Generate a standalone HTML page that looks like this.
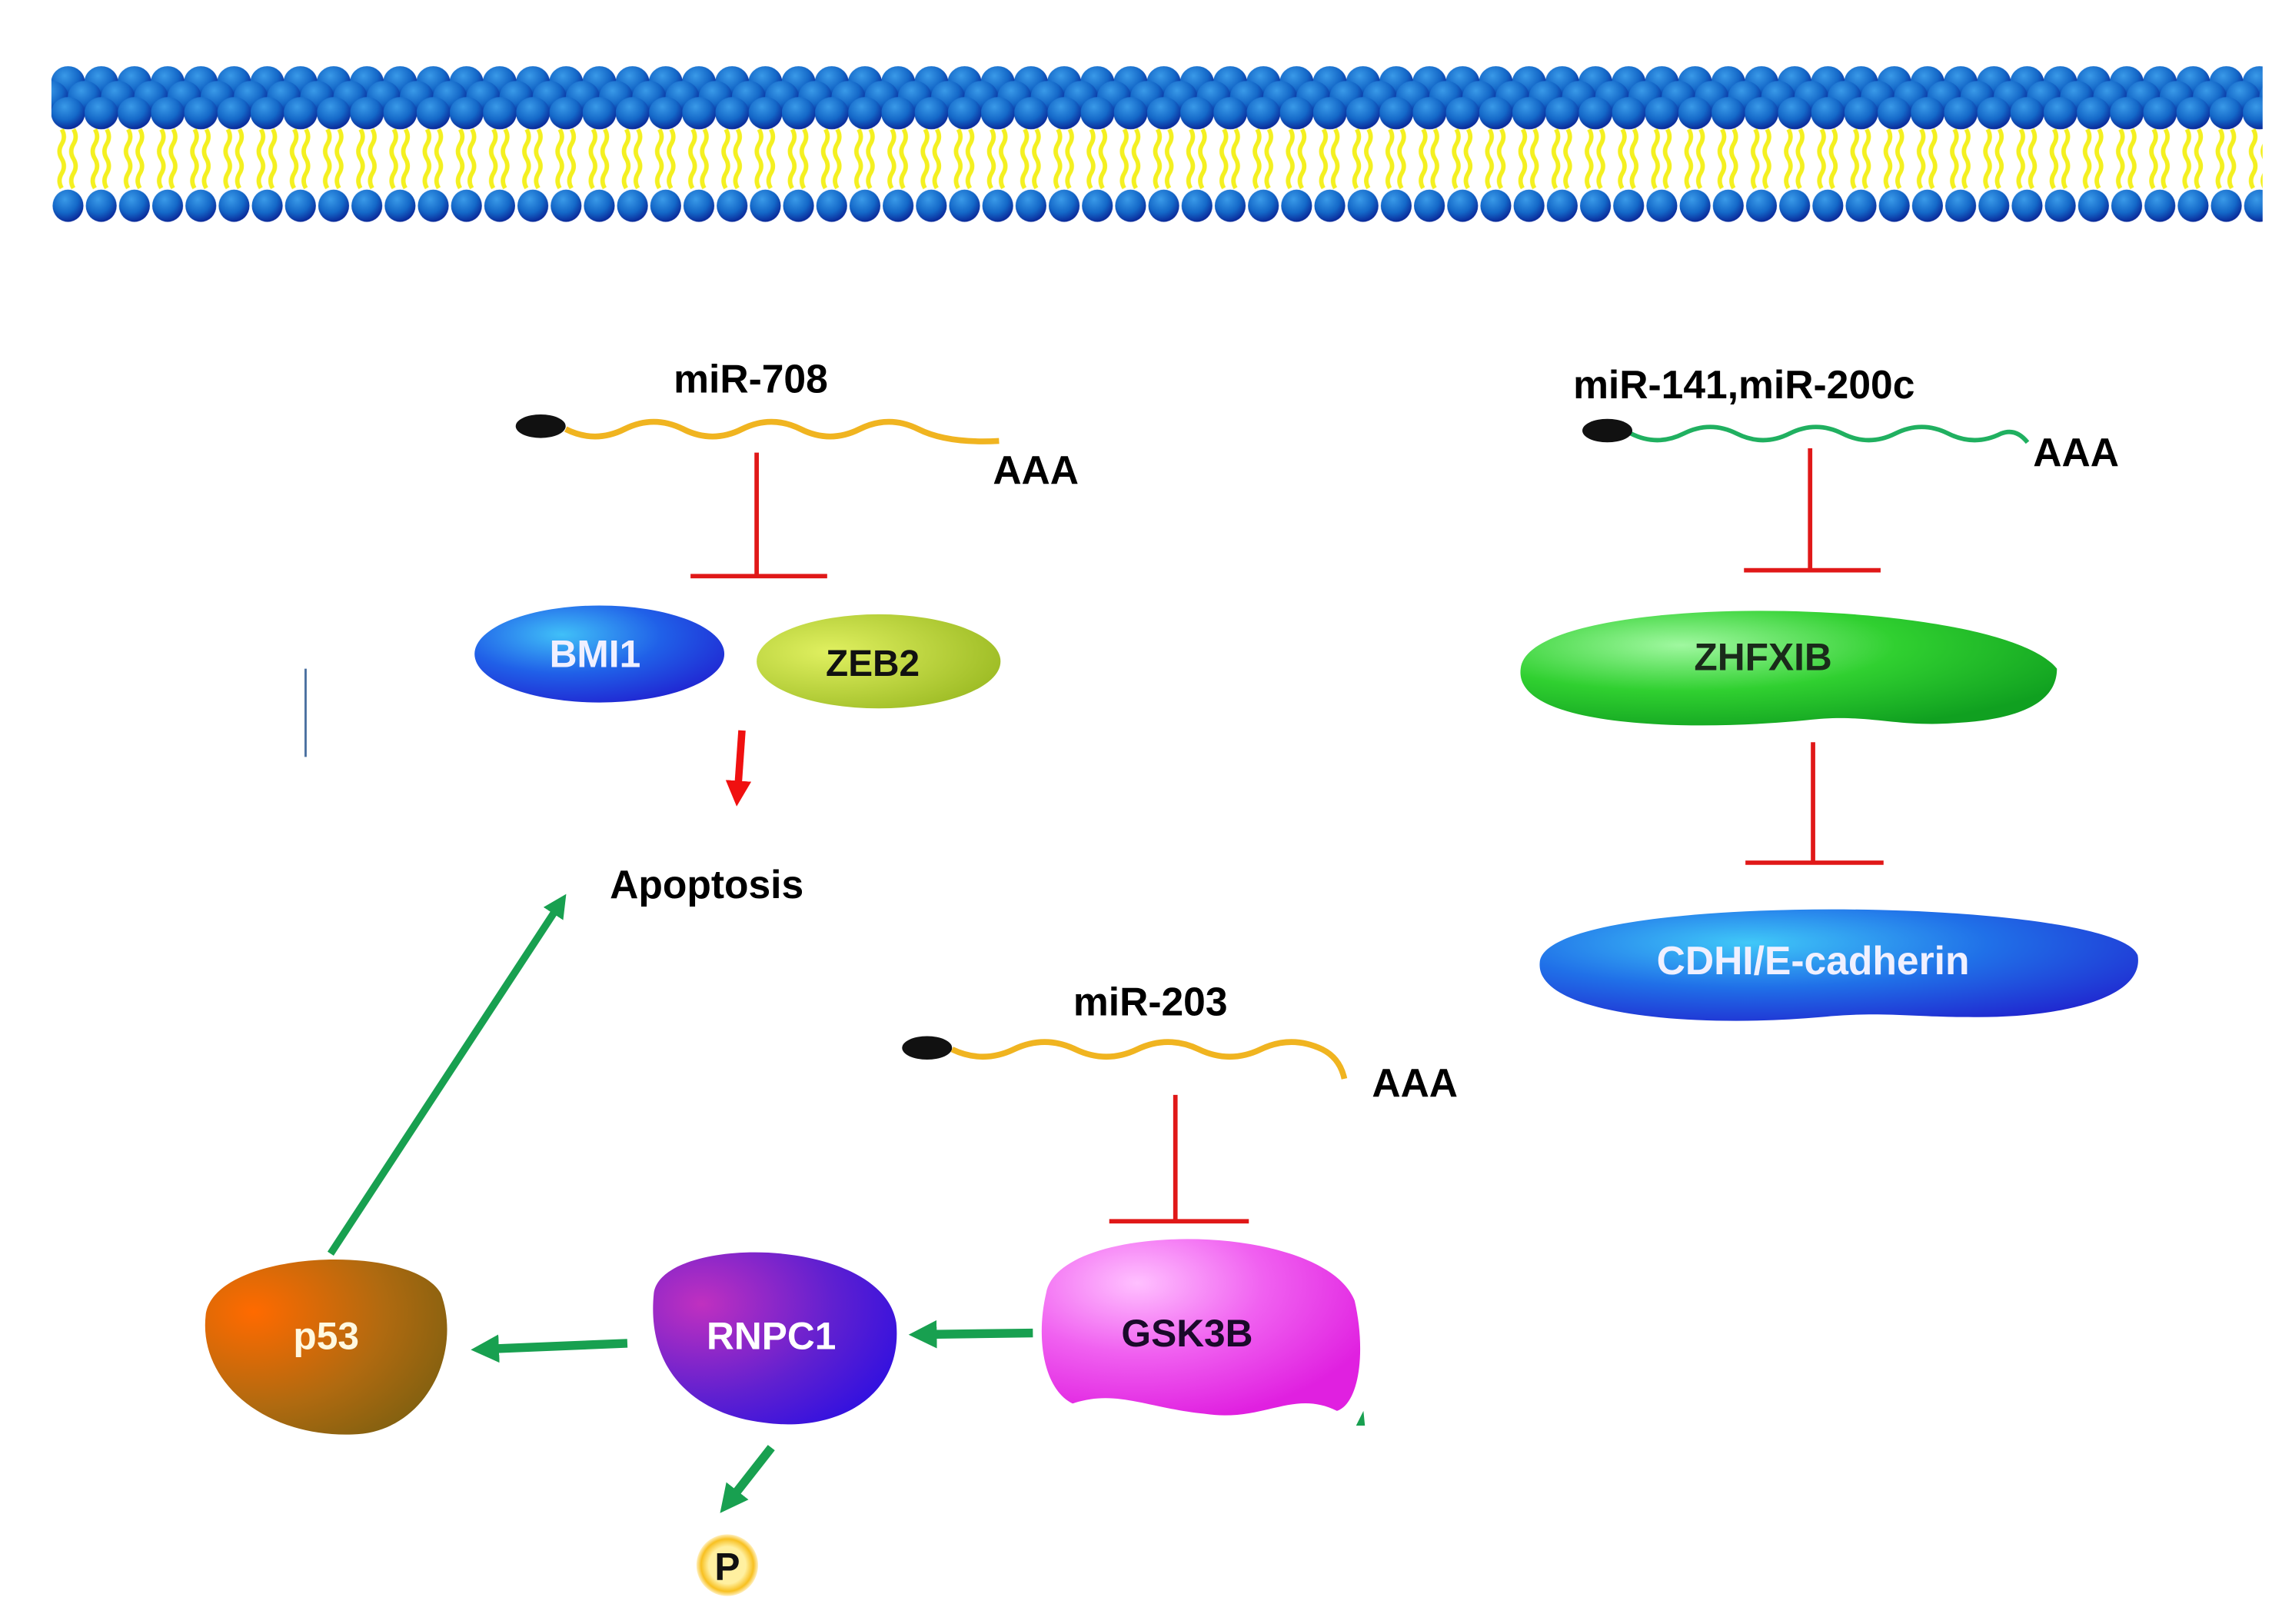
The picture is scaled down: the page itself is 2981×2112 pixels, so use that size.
<!DOCTYPE html>
<html><head><meta charset="utf-8"><style>
html,body{margin:0;padding:0;background:#fff;}
svg{display:block;}
text{font-family:"Liberation Sans",sans-serif;font-weight:bold;}
</style></head><body>
<svg width="2981" height="2112" viewBox="0 0 1560 1105" preserveAspectRatio="none" xmlns="http://www.w3.org/2000/svg">
<defs>
<radialGradient id="head" cx="0.4" cy="0.3" r="0.7">
<stop offset="0" stop-color="#3a9ae8"/><stop offset="0.6" stop-color="#1468c8"/><stop offset="1" stop-color="#0a2a9a"/>
</radialGradient>
<pattern id="mem" x="35" y="0" width="22.6" height="160" patternUnits="userSpaceOnUse">
<path d="M7 88 q3 5 0 10 q-3 5 0 10 q3 5 0 10 q-3 5 0 10 M15 88 q3 5 0 10 q-3 5 0 10 q3 5 0 10 q-3 5 0 10" stroke="#f4f020" stroke-width="3" fill="none"/>
<ellipse cx="11.3" cy="56" rx="11.5" ry="11" fill="url(#head)"/>
<ellipse cx="0" cy="66" rx="11.5" ry="11" fill="url(#head)"/>
<ellipse cx="22.6" cy="66" rx="11.5" ry="11" fill="url(#head)"/>
<ellipse cx="11.3" cy="77" rx="11.5" ry="11" fill="url(#head)"/>
<ellipse cx="11.3" cy="140" rx="10.5" ry="11" fill="url(#head)"/>
</pattern>
<radialGradient id="bmi" cx="0.35" cy="0.3" r="0.8"><stop offset="0" stop-color="#40c0f8"/><stop offset="0.5" stop-color="#2060e8"/><stop offset="1" stop-color="#2020d0"/></radialGradient>
<radialGradient id="zeb" cx="0.3" cy="0.4" r="0.8"><stop offset="0" stop-color="#e0f060"/><stop offset="1" stop-color="#98b820"/></radialGradient>
<radialGradient id="zh" cx="0.3" cy="0.3" r="0.8"><stop offset="0" stop-color="#a0f8a0"/><stop offset="0.5" stop-color="#30d030"/><stop offset="1" stop-color="#10a020"/></radialGradient>
<radialGradient id="cd" cx="0.35" cy="0.3" r="0.8"><stop offset="0" stop-color="#40c8f8"/><stop offset="0.5" stop-color="#2070e8"/><stop offset="1" stop-color="#2028d0"/></radialGradient>
<radialGradient id="gsk" cx="0.3" cy="0.25" r="0.8"><stop offset="0" stop-color="#ffc0ff"/><stop offset="0.5" stop-color="#f060f0"/><stop offset="1" stop-color="#e020e0"/></radialGradient>
<radialGradient id="rn" cx="0.2" cy="0.3" r="0.9"><stop offset="0" stop-color="#c030c0"/><stop offset="0.6" stop-color="#6020d0"/><stop offset="1" stop-color="#3010e0"/></radialGradient>
<radialGradient id="p53" cx="0.2" cy="0.3" r="0.9"><stop offset="0" stop-color="#ff6a00"/><stop offset="0.6" stop-color="#b06a10"/><stop offset="1" stop-color="#806010"/></radialGradient>
<radialGradient id="pp" cx="0.5" cy="0.5" r="0.5"><stop offset="0.6" stop-color="#fff0a0"/><stop offset="0.85" stop-color="#f8c020"/><stop offset="1" stop-color="#fff0c0"/></radialGradient>
<marker id="ga" viewBox="0 0 10 10" refX="5" refY="5" markerWidth="3.2" markerHeight="3.2" orient="auto"><path d="M0 0 L10 5 L0 10 z" fill="#18a050"/></marker>
<marker id="ra" viewBox="0 0 10 10" refX="5" refY="5" markerWidth="3.5" markerHeight="3.5" orient="auto"><path d="M0 0 L10 5 L0 10 z" fill="#f01010"/></marker>
</defs>
<rect x="35" y="42" width="1505" height="112" fill="url(#mem)"/>

<!-- miR-708 -->
<text x="511" y="267" font-size="27" text-anchor="middle">miR-708</text>
<path d="M385 292 q20 10 40 0 q20 -10 40 0 q20 10 40 0 q20 -10 40 0 q20 10 40 0 q20 -10 40 0 q20 10 55 8" stroke="#f0b420" stroke-width="4" fill="none"/>
<ellipse cx="368" cy="290" rx="17" ry="8" fill="#111"/>
<text x="705" y="329" font-size="27" text-anchor="middle">AAA</text>
<path d="M515 308 V392 M470 392 H563" stroke="#e01818" stroke-width="3" fill="none"/>
<ellipse cx="408" cy="445" rx="85" ry="33" fill="url(#bmi)"/>
<text x="405" y="454" font-size="26" fill="#f0f0ff" text-anchor="middle">BMI1</text>
<ellipse cx="598" cy="450" rx="83" ry="32" fill="url(#zeb)"/>
<text x="594" y="460" font-size="25" fill="#111" text-anchor="middle">ZEB2</text>
<line x1="505" y1="497" x2="502" y2="540" stroke="#f01010" stroke-width="5" marker-end="url(#ra)"/>
<text x="481" y="611" font-size="27" text-anchor="middle">Apoptosis</text>
<line x1="208" y1="455" x2="208" y2="515" stroke="#4a70a0" stroke-width="1.5"/>

<!-- miR-141 -->
<text x="1187" y="271" font-size="27" text-anchor="middle">miR-141,miR-200c</text>
<path d="M1110 295 q18 9 36 0 q18 -9 36 0 q18 9 36 0 q18 -9 36 0 q18 9 36 0 q18 -9 36 0 q18 9 36 0 q10 -4 18 6" stroke="#20b060" stroke-width="3" fill="none"/>
<ellipse cx="1094" cy="293" rx="17" ry="8" fill="#111"/>
<text x="1413" y="317" font-size="27" text-anchor="middle">AAA</text>
<path d="M1232 305 V388 M1187 388 H1280" stroke="#e01818" stroke-width="3" fill="none"/>
<path d="M1035 455 C1040 400 1360 405 1400 455 C1400 480 1370 490 1330 492 C1290 495 1270 485 1230 490 C1150 498 1030 495 1035 455 Z" fill="url(#zh)"/>
<text x="1200" y="456" font-size="26" fill="#1a2a1a" text-anchor="middle">ZHFXIB</text>
<path d="M1234 505 V587 M1188 587 H1282" stroke="#e01818" stroke-width="3" fill="none"/>
<path d="M1048 655 C1050 605 1440 610 1455 650 C1460 680 1400 693 1340 692 C1300 692 1280 688 1240 692 C1150 700 1045 690 1048 655 Z" fill="url(#cd)"/>
<text x="1234" y="663" font-size="27" fill="#f0f0ff" text-anchor="middle">CDHI/E-cadherin</text>

<!-- miR-203 -->
<text x="783" y="691" font-size="27" text-anchor="middle">miR-203</text>
<path d="M648 714 q21 10 42 0 q21 -10 42 0 q21 10 42 0 q21 -10 42 0 q21 10 42 0 q21 -10 42 0 q12 6 15 20" stroke="#f0b420" stroke-width="4" fill="none"/>
<ellipse cx="631" cy="713" rx="17" ry="8" fill="#111"/>
<text x="963" y="746" font-size="27" text-anchor="middle">AAA</text>
<path d="M800 745 V831 M755 831 H850" stroke="#e01818" stroke-width="3" fill="none"/>

<path d="M712 880 C720 830 900 830 922 885 C930 920 925 955 910 960 C880 945 860 968 820 962 C780 958 760 945 730 955 C710 945 705 910 712 880 Z" fill="url(#gsk)"/>
<text x="808" y="916" font-size="26" fill="#1a0a2a" text-anchor="middle">GSK3B</text>
<path d="M445 880 C450 840 600 840 610 900 C615 950 570 975 520 968 C470 962 440 930 445 880 Z" fill="url(#rn)"/>
<text x="525" y="918" font-size="26" fill="#fff" text-anchor="middle">RNPC1</text>
<path d="M140 895 C145 850 280 845 300 880 C315 920 290 975 240 976 C180 978 135 940 140 895 Z" fill="url(#p53)"/>
<text x="222" y="918" font-size="26" fill="#fff8e0" text-anchor="middle">p53</text>

<line x1="703" y1="907" x2="628" y2="908" stroke="#18a050" stroke-width="6" marker-end="url(#ga)"/>
<line x1="427" y1="914" x2="330" y2="918" stroke="#18a050" stroke-width="6" marker-end="url(#ga)"/>
<line x1="225" y1="853" x2="381" y2="615" stroke="#18a050" stroke-width="5" marker-end="url(#ga)"/>
<line x1="525" y1="985" x2="496" y2="1022" stroke="#18a050" stroke-width="6" marker-end="url(#ga)"/>
<path d="M923 970 L928 960 L929 970 Z" fill="#18a050"/>
<circle cx="495" cy="1065" r="21" fill="url(#pp)"/>
<text x="495" y="1075" font-size="26" fill="#111" text-anchor="middle">P</text>
</svg>
</body></html>
